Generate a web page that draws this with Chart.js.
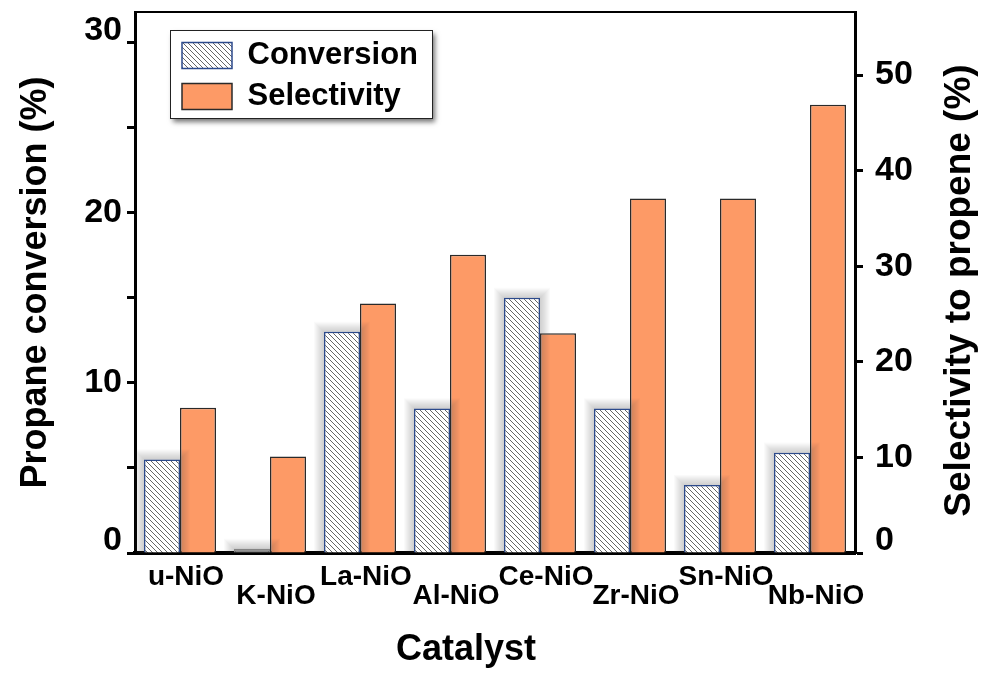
<!DOCTYPE html>
<html>
<head>
<meta charset="utf-8">
<title>Propane conversion and propene selectivity over doped NiO catalysts</title>
<script src="https://cdn.jsdelivr.net/npm/chart.js@4/dist/chart.umd.min.js"></script>
<style>
  html, body { margin: 0; padding: 0; background: #ffffff; }
  #c { display: block; }
</style>
</head>
<body>
<canvas id="c" width="983" height="673"></canvas>
<script>
// ---- data ----
const categories = ['u-NiO', 'K-NiO', 'La-NiO', 'Al-NiO', 'Ce-NiO', 'Zr-NiO', 'Sn-NiO', 'Nb-NiO'];
const conversion = [5.5, 0.25, 13.0, 8.5, 15.0, 8.5, 4.0, 5.9];      // Propane conversion (%)
const selectivity = [15.2, 10.1, 26.1, 31.2, 23.0, 37.1, 37.1, 46.9]; // Selectivity to propene (%)
const conversionTicks = [0, 10, 20, 30];
const selectivityTicks = [0, 10, 20, 30, 40, 50];
const greyedCategories = ['K-NiO'];

const FONT = '"Liberation Sans", Arial, Helvetica, sans-serif';
Chart.defaults.font.family = FONT;
Chart.defaults.color = '#000';

const canvas = document.getElementById('c');
const ctx = canvas.getContext('2d');

// diagonal hatch used for the conversion bars
const hatch = (() => {
  const tile = document.createElement('canvas');
  tile.width = 5; tile.height = 5;
  const g = tile.getContext('2d');
  g.fillStyle = '#ffffff';
  g.fillRect(0, 0, 5, 5);
  g.fillStyle = '#666666';
  for (let i = 0; i < 5; i++) g.fillRect(i, i, 1, 1);
  return ctx.createPattern(tile, 'repeat');
})();

const ORANGE = '#FD9A66';
const NAVY = '#2C4A8C';
const GREY = '#858585';

// major ticks every 10, unlabelled minor ticks every 5
const ticksEvery5 = (max) => (s) => {
  const list = [];
  for (let v = 0; v <= max; v += 5) list.push({ value: v });
  s.ticks = list;
};

// labels listed in `raised` sit half a line above their tick
const tickLabel = (labelled, raised) => (v) => {
  if (!labelled.includes(v)) return '';
  return raised.includes(v) ? [String(v), ''] : String(v);
};

// soft grey glow around the hatched bars; drawn right before that dataset,
// so it also falls over the neighbouring orange bars
const barGlow = {
  id: 'barGlow',
  beforeDatasetDraw(chart, args) {
    if (args.index !== 0) return;
    const c = chart.ctx, a = chart.chartArea;
    const bars = chart.getDatasetMeta(args.index).data;
    c.save();
    c.beginPath();
    c.rect(a.left, a.top, a.right - a.left, a.bottom - a.top);
    c.clip();
    c.fillStyle = 'rgba(60,60,60,0.028)';
    bars.forEach((el) => {
      const left = el.x - el.width / 2;
      const top = Math.min(el.y, el.base);
      const h = Math.abs(el.base - el.y);
      for (let k = 1; k <= 10; k++) {
        c.fillRect(left - k, top - k, el.width + 2 * k, h + 2 * k);
      }
    });
    c.restore();
  }
};

// legend placed inside the plot, inside a framed box with a drop shadow
const legendFrame = {
  id: 'legendFrame',
  afterLayout(chart) {
    const lg = chart.legend, a = chart.chartArea;
    lg.left = a.left + 37;
    lg.top = a.top + 18;
    lg.right = lg.left + 270;
    lg.bottom = lg.top + 92;
  },
  beforeDraw(chart) {
    const lg = chart.legend, c = chart.ctx;
    const x = lg.left - 2, y = lg.top, w = 262, h = 88;
    c.save();
    c.shadowColor = 'rgba(0,0,0,0.55)';
    c.shadowBlur = 5;
    c.shadowOffsetX = 3;
    c.shadowOffsetY = 4;
    c.fillStyle = '#ffffff';
    c.fillRect(x, y, w, h);
    c.restore();
    c.save();
    c.strokeStyle = '#222';
    c.lineWidth = 1;
    c.strokeRect(x + 0.5, y + 0.5, w, h);
    c.restore();
  }
};

// right-hand axis title (reads bottom to top) and the category axis title
const axisTitles = {
  id: 'axisTitles',
  afterDraw(chart) {
    const c = chart.ctx, a = chart.chartArea;
    c.save();
    c.fillStyle = '#000';
    c.textAlign = 'center';
    c.textBaseline = 'middle';
    c.font = 'bold 37px ' + FONT;
    c.translate(chart.width - 23, (a.top + a.bottom) / 2 + 8);
    c.rotate(-Math.PI / 2);
    c.fillText('Selectivity to propene (%)', 0, 0);
    c.restore();

    c.save();
    c.fillStyle = '#000';
    c.textAlign = 'center';
    c.textBaseline = 'middle';
    c.font = 'bold 36px ' + FONT;
    c.fillText('Catalyst', a.left + 331, chart.height - 23);
    c.restore();
  }
};

const tickFont = { family: FONT, weight: 'bold', size: 34, lineHeight: 0.7 };
const noEdgePadding = (s) => { s.paddingTop = 0; s.paddingBottom = 0; };

new Chart(ctx, {
  type: 'bar',
  data: {
    labels: categories.map((c, i) => (i % 2 ? ['', c] : c)),
    datasets: [
      {
        label: 'Conversion',
        data: conversion,
        yAxisID: 'y',
        backgroundColor: (c) => (c.type === 'data' && greyedCategories.includes(categories[c.dataIndex]) ? GREY : hatch),
        borderColor: (c) => (c.type === 'data' && greyedCategories.includes(categories[c.dataIndex]) ? GREY : NAVY),
        borderWidth: 1.5,
        categoryPercentage: 0.8,
        barPercentage: 1.0
      },
      {
        label: 'Selectivity',
        data: selectivity,
        yAxisID: 'y1',
        backgroundColor: ORANGE,
        borderColor: '#2a2a2a',
        borderWidth: 1.5,
        categoryPercentage: 0.8,
        barPercentage: 1.0
      }
    ]
  },
  options: {
    responsive: false,
    devicePixelRatio: 1,
    animation: false,
    layout: { padding: 0 },
    plugins: {
      tooltip: { enabled: false },
      legend: {
        position: 'chartArea',
        align: 'start',
        labels: {
          color: '#000',
          font: { family: FONT, weight: 'bold', size: 31 },
          boxWidth: 50,
          boxHeight: 26,
          padding: 10
        }
      }
    },
    scales: {
      x: {
        position: 'bottom',
        grid: { display: false, drawTicks: false },
        border: { display: true, width: 4, color: '#000' },
        ticks: {
          color: '#000',
          font: { family: FONT, weight: 'bold', size: 28, lineHeight: 0.7 },
          padding: 14,
          labelOffset: 6,
          autoSkip: false,
          maxRotation: 0,
          minRotation: 0
        },
        afterFit: (s) => { s.height = 120; s.paddingLeft = 0; s.paddingRight = 0; }
      },
      xTop: {
        type: 'category',
        position: 'top',
        grid: { display: false, drawTicks: false },
        border: { display: true, width: 2, color: '#000' },
        ticks: { display: false },
        afterFit: (s) => { s.height = 12; }
      },
      y: {
        position: 'left',
        min: 0,
        max: 31.8,
        afterBuildTicks: ticksEvery5(30),
        ticks: {
          color: '#000',
          font: tickFont,
          padding: 5,
          callback: tickLabel(conversionTicks, [0, 30])
        },
        grid: { display: true, drawOnChartArea: false, drawTicks: true, tickLength: 8, tickWidth: 3, color: '#000' },
        border: { display: true, width: 3, color: '#000' },
        title: {
          display: true,
          text: 'Propane conversion (%)',
          color: '#000',
          font: { family: FONT, weight: 'bold', size: 36 },
          padding: { top: 14, bottom: 0 }
        },
        afterFit: (s) => { s.width = 135; noEdgePadding(s); }
      },
      y1: {
        position: 'right',
        min: 0,
        max: 56.6,
        afterBuildTicks: ticksEvery5(55),
        ticks: {
          color: '#000',
          font: tickFont,
          padding: 12,
          callback: tickLabel(selectivityTicks, [0])
        },
        grid: { display: true, drawOnChartArea: false, drawTicks: true, tickLength: 8, tickWidth: 3, color: '#000' },
        border: { display: true, width: 3, color: '#000' },
        afterFit: (s) => { s.width = 128; noEdgePadding(s); }
      }
    }
  },
  plugins: [barGlow, legendFrame, axisTitles]
});
</script>
</body>
</html>
